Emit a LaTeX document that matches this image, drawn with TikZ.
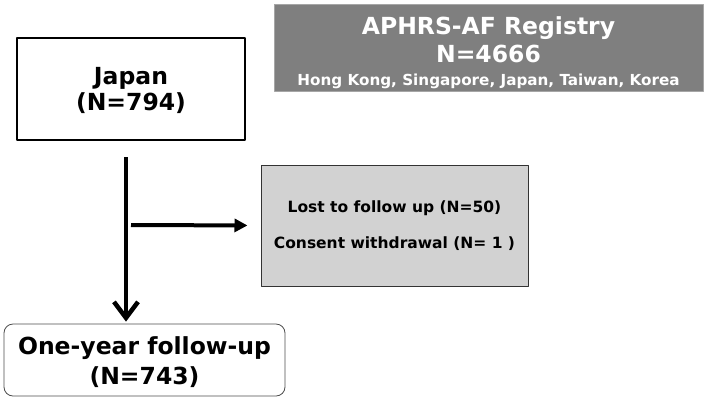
\documentclass[tikz,border=0pt]{standalone}
\usepackage{fontspec}
\setmainfont{DejaVu Sans}
\usetikzlibrary{arrows.meta,positioning}

\begin{document}
\begin{tikzpicture}[x=1pt,y=-1pt, font=\bfseries, line join=round,
	box/.style={draw=black, line width=1.2pt, align=center, inner sep=0pt},
	darkbox/.style={draw=gray!70, fill={rgb,255:red,127;green,127;blue,127}, text=white, align=center, inner sep=0pt},
	lightbox/.style={draw=black!80, line width=1pt, fill=gray!35, align=center, inner sep=0pt}]
	\useasboundingbox (0,0) rectangle (709,400);
	% Boxes
	\node[darkbox, minimum width=429pt, minimum height=87pt, font=\bfseries\fontsize{23.5}{28}\selectfont] (registry) at (488.5,47.5)
		{\rule{0pt}{28pt}APHRS-AF Registry\\ N=4666\\[-5pt]
		 {\fontsize{15.2}{17}\selectfont Hong Kong, Singapore, Japan, Taiwan, Korea}};
	\node[box, minimum width=228pt, minimum height=102pt, font=\bfseries\fontsize{23.5}{26}\selectfont] (japan) at (131,89)
		{\rule{0pt}{21pt}Japan\\ (N=794)};
	\node[lightbox, minimum width=267pt, minimum height=121pt, font=\bfseries\fontsize{15.5}{36}\selectfont] (excluded) at (394.5,225.5)
		{Lost to follow up (N=50)\\ Consent withdrawal (N= 1 )};
	\node[box, draw=black!70, line width=0.8pt, rounded corners=9pt, minimum width=281pt, minimum height=72pt, font=\bfseries\fontsize{23.5}{30}\selectfont] (followup) at (144.5,360)
		{\rule{0pt}{23pt}One-year follow-up\\ (N=743)};
	% Arrows
	\coordinate (top) at (126,157);
	\coordinate (branch) at (131,225);
	\draw[line width=4.5pt, -{Straight Barb[length=16pt,width=24pt,line width=4.5pt]}, shorten >=2pt] (top) -- (top |- followup.north);
	\draw[line width=4pt, -{Triangle[length=13pt,width=13pt]}, shorten >=13pt] (branch) -- (excluded.west);
\end{tikzpicture}
\end{document}
